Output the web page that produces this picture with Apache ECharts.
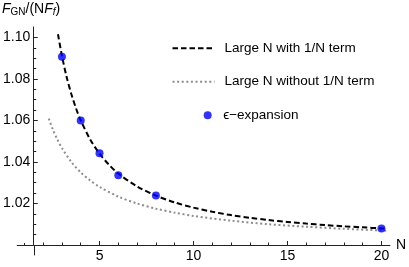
<!DOCTYPE html>
<html>
<head>
<meta charset="utf-8">
<script src="https://cdn.jsdelivr.net/npm/echarts@6/dist/echarts.min.js"></script>
<style>
html,body{margin:0;padding:0;background:#fff;}
#chart{width:409px;height:267px;}
</style>
</head>
<body>
<div id="chart"></div>
<script>
// ---- data ----
var withN = [2.79, 3, 3.25, 3.5, 3.75, 4, 4.5, 5, 5.5, 6, 7, 8, 9, 10, 11, 12, 13, 14, 15, 16, 17, 18, 19, 20, 20.3];
var withF = [1.1015, 1.0911, 1.0809, 1.0727, 1.0658, 1.0600, 1.0509, 1.0440, 1.0387, 1.0344, 1.0282, 1.0238, 1.0205, 1.0180, 1.0160, 1.0144, 1.0131, 1.0120, 1.0111, 1.0103, 1.0096, 1.0090, 1.0085, 1.0080, 1.0079];
var withoutN = [2.3, 2.5, 2.75, 3, 3.5, 4, 4.5, 5, 6, 7, 8, 9, 10, 12, 14, 16, 18, 20, 20.3];
var withoutF = [1.0609, 1.0560, 1.0509, 1.0467, 1.0400, 1.0350, 1.0311, 1.0280, 1.0233, 1.0200, 1.0175, 1.0156, 1.0140, 1.0117, 1.0100, 1.0088, 1.0078, 1.0070, 1.0069];
var epsN = [3, 4, 5, 6, 8, 20];
var epsF = [1.0907, 1.0600, 1.0442, 1.0336, 1.0239, 1.0080];
var xTicks = [5, 10, 15, 20];
var yTicks = [1.02, 1.04, 1.06, 1.08, 1.10];
var seriesNames = ['Large N with 1/N term', 'Large N without 1/N term', 'ϵ\u2212expansion'];

function zip(a, b) { return a.map(function (v, i) { return [v, b[i]]; }); }

var FONT = "'Liberation Sans', Arial, sans-serif";
var AX = '#222';
var chart = echarts.init(document.getElementById('chart'), null, {renderer: 'canvas'});

var option = {
  animation: false,
  backgroundColor: '#fff',
  title: {
    text: '{fi|F}{sub|GN}{n|/(N}{fi|F}{subi|f}{n|)}',
    left: 2, top: 1, padding: 0,
    textStyle: {
      fontWeight: 'normal',
      rich: {
        fi: {fontFamily: FONT, fontSize: 14, fontStyle: 'italic', fontWeight: 'normal', color: '#000', lineHeight: 16},
        n: {fontFamily: FONT, fontSize: 14, fontWeight: 'normal', color: '#000', lineHeight: 16},
        sub: {fontFamily: FONT, fontSize: 10, fontWeight: 'normal', color: '#000', lineHeight: 8, verticalAlign: 'bottom'},
        subi: {fontFamily: FONT, fontSize: 10, fontStyle: 'italic', fontWeight: 'normal', color: '#000', lineHeight: 8, verticalAlign: 'bottom'}
      }
    }
  },
  grid: {left: 32, right: 19, top: 27, bottom: 22, containLabel: false},
  legend: [
    {
      data: [seriesNames[0], seriesNames[1]],
      orient: 'vertical', left: 171.5, top: 41.3, padding: 0,
      itemWidth: 42, itemHeight: 14, itemGap: 19.4,
      itemStyle: {color: 'rgba(0,0,0,0)', borderWidth: 0, opacity: 0},
      textStyle: {fontFamily: FONT, fontSize: 13.5, color: '#000', padding: [0, 0, 0, 5]},
      selectedMode: false
    },
    {
      data: [seriesNames[2]],
      orient: 'vertical', left: 203.7, top: 108.3, padding: 0,
      itemWidth: 8, itemHeight: 8,
      textStyle: {fontFamily: FONT, fontSize: 13.5, color: '#000', padding: [0, 0, 0, 6.5]},
      selectedMode: false
    }
  ],
  xAxis: {
    type: 'value', min: 1.5, max: 20.45, splitNumber: 4,
    name: 'N', nameLocation: 'end', nameGap: 6,
    nameTextStyle: {fontFamily: FONT, fontSize: 14, color: '#000', verticalAlign: 'middle', padding: [0, 0, 0, 0]},
    axisLine: {show: true, onZero: false, lineStyle: {color: AX, width: 1}},
    axisTick: {show: true, inside: true, length: 4, customValues: xTicks, lineStyle: {color: AX}},
    minorTick: {show: true, splitNumber: 5, length: 2.5, lineStyle: {color: AX}},
    axisLabel: {customValues: xTicks, fontFamily: FONT, fontSize: 14, color: '#000', margin: 4},
    splitLine: {show: false}
  },
  yAxis: {
    type: 'value', min: 1.0, max: 1.105, splitNumber: 5,
    axisLine: {show: true, onZero: false, lineStyle: {color: AX, width: 1}},
    axisTick: {show: true, inside: true, length: 4, customValues: yTicks, lineStyle: {color: AX}},
    minorTick: {show: true, splitNumber: 4, length: 2.5, lineStyle: {color: AX}},
    axisLabel: {customValues: yTicks, fontFamily: FONT, fontSize: 14, color: '#000', margin: 3.5,
      formatter: function (v) { return v.toFixed(2); }},
    splitLine: {show: false}
  },
  series: [
    {
      name: seriesNames[0], type: 'line', data: zip(withN, withF), smooth: 0.3,
      symbol: 'none', lineStyle: {color: '#000', width: 2, type: [5.5, 3]}, itemStyle: {color: '#000'}, z: 3
    },
    {
      name: seriesNames[1], type: 'line', data: zip(withoutN, withoutF), smooth: 0.3,
      symbol: 'none', lineStyle: {color: '#8c8c8c', width: 2, type: [2, 2.6]}, itemStyle: {color: '#8c8c8c'}, z: 2
    },
    {
      name: seriesNames[2], type: 'scatter', data: zip(epsN, epsF), symbol: 'circle', symbolSize: 8,
      itemStyle: {color: '#0000ff'}, z: 4
    }
  ]
};
chart.setOption(option);

// axis stubs: x axis extends left past the y axis, y axis extends below the x axis
var p0 = chart.convertToPixel({gridIndex: 0}, [0.6, 1.0]);
var p1 = chart.convertToPixel({gridIndex: 0}, [1.5, 1.0]);
var pt = chart.convertToPixel({gridIndex: 0}, [1.0, 1.0]);
var pb = chart.convertToPixel({gridIndex: 0}, [1.5, 0.995]);
chart.setOption({
  graphic: [
    {type: 'line', shape: {x1: p0[0], y1: Math.round(p0[1]) + 0.5, x2: p1[0], y2: Math.round(p1[1]) + 0.5}, style: {stroke: AX, lineWidth: 1}, silent: true},
    {type: 'line', shape: {x1: Math.round(pt[0]) + 0.5, y1: Math.round(pt[1]) + 0.5, x2: Math.round(pt[0]) + 0.5, y2: Math.round(pt[1]) - 2}, style: {stroke: AX, lineWidth: 1}, silent: true},
    {type: 'line', shape: {x1: Math.round(p1[0]) + 0.5, y1: p1[1], x2: Math.round(pb[0]) + 0.5, y2: pb[1]}, style: {stroke: AX, lineWidth: 1}, silent: true}
  ]
});
</script>
</body>
</html>
